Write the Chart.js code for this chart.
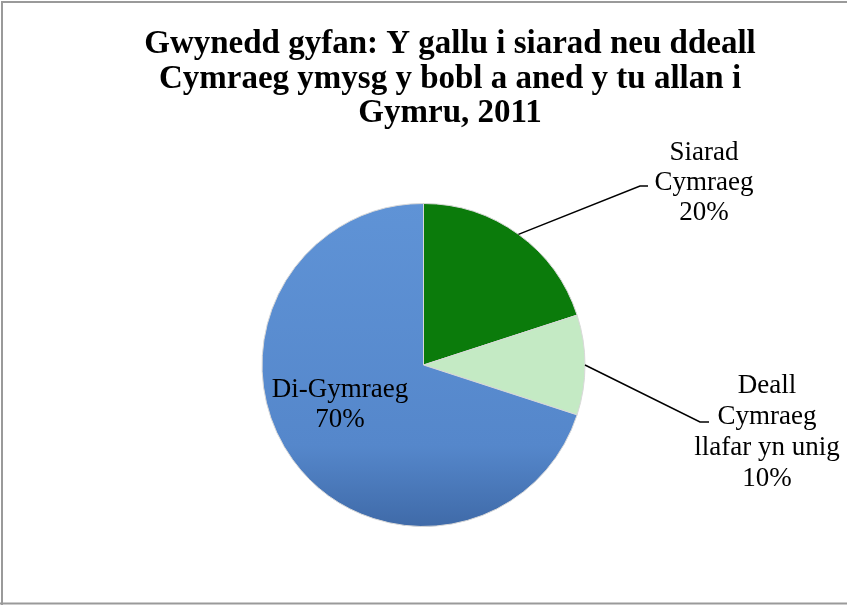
<!DOCTYPE html>
<html>
<head>
<meta charset="utf-8">
<script src="https://cdn.jsdelivr.net/npm/chart.js@4/dist/chart.umd.min.js"></script>
<style>
  html, body { margin: 0; padding: 0; background: #fff; }
  #wrap { width: 847px; height: 605px; position: relative; }
</style>
</head>
<body>
<div id="wrap"><canvas id="myChart" width="847" height="605"></canvas></div>
<script>
// data
var categorias = ['Siarad Cymraeg', 'Deall Cymraeg llafar yn unig', 'Di-Gymraeg']
var valores = [20, 10, 70]
var cores = ['#0b7b0b', '#c4eac4', '#5a8dd0']
var tituloLinhas = ['Gwynedd gyfan: Y gallu i siarad neu ddeall', 'Cymraeg ymysg y bobl a aned y tu allan i', 'Gymru, 2011']
// label lines for each slice (text split as in the picture)
var rotulos = [
  ['Siarad', 'Cymraeg'],
  ['Deall', 'Cymraeg', 'llafar yn unig'],
  ['Di-Gymraeg']
]

var fonteTitulo = 'bold 33px "Liberation Serif"'
var fonteRotulo = '27px "Liberation Serif"'

// draws frame, title, labels and leader lines
var desenhos = {
  id: 'desenhos',
  beforeDraw: function (chart) {
    var ctx = chart.ctx
    ctx.save()
    ctx.strokeStyle = '#9a9a9a'
    ctx.lineWidth = 2
    ctx.beginPath()
    ctx.moveTo(2, 606)
    ctx.lineTo(2, 2)
    ctx.lineTo(850, 2)
    ctx.moveTo(0, 603.5)
    ctx.lineTo(850, 603.5)
    ctx.stroke()
    ctx.restore()
  },
  afterDraw: function (chart) {
    var ctx = chart.ctx
    ctx.save()
    ctx.fillStyle = '#000'
    ctx.textAlign = 'center'
    ctx.textBaseline = 'alphabetic'
    ctx.font = fonteTitulo
    for (var i = 0; i < tituloLinhas.length; i++) {
      ctx.fillText(tituloLinhas[i], 450, 53 + i * 34.5)
    }

    var arcos = chart.getDatasetMeta(0).data
    var total = valores.reduce(function (a, b) { return a + b }, 0)
    ctx.font = fonteRotulo
    ctx.strokeStyle = '#000'
    ctx.lineWidth = 1.5

    // slice 0: Siarad Cymraeg, outside top right
    var a0 = arcos[0]
    var m0 = (a0.startAngle + a0.endAngle) / 2
    var p0 = { x: a0.x + Math.cos(m0) * a0.outerRadius, y: a0.y + Math.sin(m0) * a0.outerRadius }
    ctx.beginPath()
    ctx.moveTo(p0.x, p0.y)
    ctx.lineTo(640, 186)
    ctx.lineTo(648, 186)
    ctx.stroke()
    var linhas0 = rotulos[0].concat([Math.round(valores[0] / total * 100) + '%'])
    for (var j = 0; j < linhas0.length; j++) {
      ctx.fillText(linhas0[j], 704, 160 + j * 30)
    }

    // slice 1: Deall..., outside right
    var a1 = arcos[1]
    var m1 = (a1.startAngle + a1.endAngle) / 2
    var p1 = { x: a1.x + Math.cos(m1) * a1.outerRadius, y: a1.y + Math.sin(m1) * a1.outerRadius }
    ctx.beginPath()
    ctx.moveTo(p1.x, p1.y)
    ctx.lineTo(700, 422)
    ctx.lineTo(709, 422)
    ctx.stroke()
    var linhas1 = rotulos[1].concat([Math.round(valores[1] / total * 100) + '%'])
    for (var k = 0; k < linhas1.length; k++) {
      ctx.fillText(linhas1[k], 767, 393 + k * 31)
    }

    // slice 2: Di-Gymraeg, inside
    var linhas2 = rotulos[2].concat([Math.round(valores[2] / total * 100) + '%'])
    for (var n = 0; n < linhas2.length; n++) {
      ctx.fillText(linhas2[n], 340, 397 + n * 30)
    }
    ctx.restore()
  }
}

function corFatia(context) {
  var i = context.dataIndex
  var area = context.chart.chartArea
  if (!area || i != 2) return cores[i]
  var g = context.chart.ctx.createLinearGradient(0, area.top, 0, area.bottom)
  g.addColorStop(0, '#5f93d6')
  g.addColorStop(0.75, '#5587cb')
  g.addColorStop(1, '#3f6aa8')
  return g
}

let dados = {
  labels: categorias,
  datasets: [{
    data: valores,
    backgroundColor: corFatia,
    borderColor: '#d8d8d8',
    borderWidth: 1
  }]
}

const config = {
  type: 'pie',
  data: dados,
  options: {
    responsive: false,
    animation: false,
    layout: { padding: { top: 203, bottom: 78, left: 0, right: 0 } },
    plugins: {
      legend: { display: false },
      tooltip: { enabled: false },
      title: { display: false }
    }
  },
  plugins: [desenhos]
}

var myChart = new Chart(document.getElementById('myChart'), config)
</script>
</body>
</html>
